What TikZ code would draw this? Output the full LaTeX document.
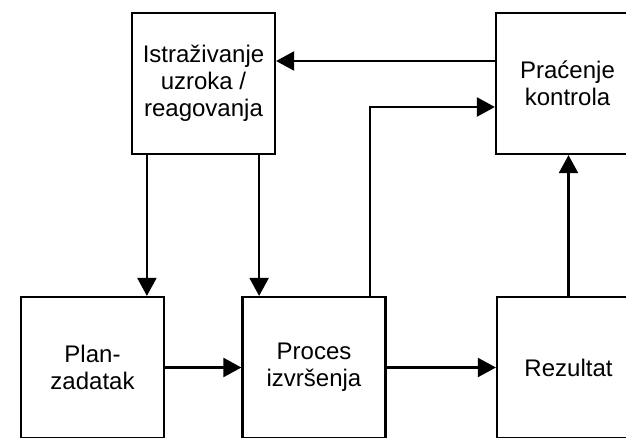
\documentclass[tikz,border=0pt]{standalone}
\usepackage{fontspec}
\setmainfont{Liberation Sans}
\usetikzlibrary{arrows.meta,positioning,calc}

\begin{document}
\begin{tikzpicture}[
            x=1pt, y=-1pt,
            blok/.style={draw, rectangle, line width=2.2pt, align=center, minimum width=143pt, minimum height=141pt, inner sep=0pt, font=\fontsize{24}{27}\selectfont},
            veza/.style={line width=2.2pt, -{Triangle[length=18pt,width=19pt]}}
        ]
            \useasboundingbox (0,0) rectangle (626,437);
            \clip (0,0) rectangle (626,437);
            \fill[white] (0,0) rectangle (626,437);

            \node[blok] (istr) at (203.5,83.5) {Istraživanje\\uzroka /\\reagovanja};
            \node[blok] (prac) at (567.5,83.5) {Praćenje\\kontrola};
            \node[blok] (plan) at (92.5,367.5) {Plan-\\zadatak};
            \node[blok] (proc) at (314,367.5) {Proces\\izvršenja};
            \node[blok] (rez) at (568.5,367.5) {Rezultat};

            \draw[veza] ([yshift=22.5pt]prac.west) -- ([yshift=22.5pt]istr.east);
            \draw[veza] ([xshift=16pt]istr.south west) -- ([xshift=16pt]istr.south west |- plan.north);
            \draw[veza] ([xshift=-17pt]istr.south east) -- ([xshift=-17pt]istr.south east |- proc.north);
            \draw[veza] ([xshift=56pt]proc.north) |- ([yshift=-23.5pt]prac.west);
            \draw[veza] (rez.north) -- (rez.north |- prac.south);
            \draw[veza] (plan.east) -- (proc.west);
            \draw[veza] (proc.east) -- (rez.west);
        \end{tikzpicture}
\end{document}
